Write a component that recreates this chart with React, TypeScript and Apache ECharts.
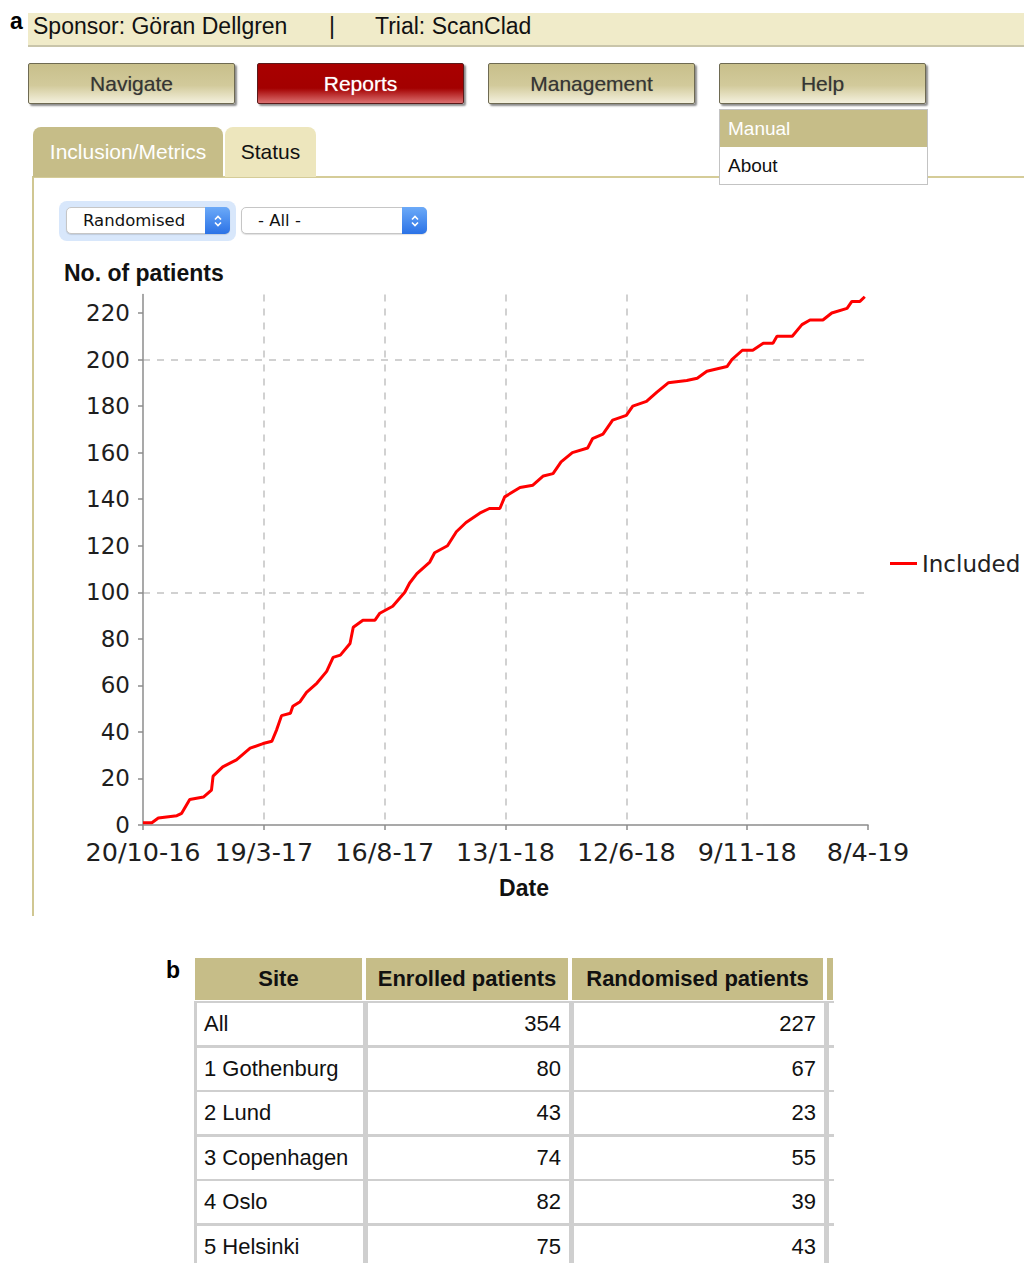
import React, { useEffect, useRef } from 'react';
import * as echarts from 'echarts';

// ---------- chart data ----------
const xTickLabels = ['20/10-16', '19/3-17', '16/8-17', '13/1-18', '12/6-18', '9/11-18', '8/4-19'];
const tickStepDays = 150;
const xMaxDays = 900;
const yMax = 228;
const seriesName = 'Included';
const days = [
  0, 11, 19, 42, 48, 58, 75, 85, 87, 99, 116, 133, 149, 160, 166, 172, 183, 186, 195, 203,
  216, 228, 236, 245, 257, 261, 273, 288, 294, 310, 325, 331, 340, 356, 362, 378, 389, 401, 418, 430,
  443, 449, 468, 484, 497, 509, 519, 533, 552, 558, 571, 583, 600, 608, 625, 638, 652, 675, 688, 700,
  725, 731, 744, 757, 770, 782, 787, 806, 818, 828, 844, 855, 874, 880, 890, 896,
];
const included = [
  1, 1, 3, 4, 5, 11, 12, 15, 21, 25, 28, 33, 35, 36, 41, 47, 48, 51, 53, 57,
  61, 66, 72, 73, 78, 85, 88, 88, 91, 94, 100, 104, 108, 113, 117, 120, 126, 130, 134, 136,
  136, 141, 145, 146, 150, 151, 156, 160, 162, 166, 168, 174, 176, 180, 182, 186, 190, 191, 192, 195,
  197, 200, 204, 204, 207, 207, 210, 210, 215, 217, 217, 220, 222, 225, 225, 227,
];

// ---------- page data ----------
const sponsorText = 'Sponsor: Göran Dellgren';
const trialText = 'Trial: ScanClad';
const navButtons = ['Navigate', 'Reports', 'Management', 'Help'];
const helpMenu = ['Manual', 'About'];
const tabs = ['Inclusion/Metrics', 'Status'];
const selects = ['Randomised', '- All -'];
const tableHeaders = ['Site', 'Enrolled patients', 'Randomised patients'];
const sites = ['All', '1 Gothenburg', '2 Lund', '3 Copenhagen', '4 Oslo', '5 Helsinki'];
const enrolled = [354, 80, 43, 74, 82, 75];
const randomised = [227, 67, 23, 55, 39, 43];

const UI_FONT = '"Liberation Sans", Arial, Helvetica, sans-serif';
const CHART_FONT = '"DejaVu Sans", sans-serif';
const GOLD = '#c6bd88';

function Chart() {
  const ref = useRef<HTMLDivElement>(null);
  useEffect(() => {
    if (!ref.current) return;
    const chart = echarts.init(ref.current, null, { renderer: 'svg' });
    const axisColor = '#8c8c8c';
    chart.setOption({
      animation: false,
      title: {
        text: 'No. of patients',
        left: 59,
        top: 6,
        textStyle: { fontFamily: UI_FONT, fontWeight: 'bold', fontSize: 23, color: '#111' },
      },
      legend: {
        data: [seriesName],
        left: 885,
        top: 297,
        icon: 'rect',
        itemWidth: 27,
        itemHeight: 3,
        textStyle: { fontFamily: CHART_FONT, fontSize: 23, color: '#222' },
      },
      grid: { left: 143, right: 156, top: 44.4, bottom: 95 },
      xAxis: {
        type: 'value',
        min: 0,
        max: xMaxDays,
        interval: tickStepDays,
        axisLine: { show: true, onZero: false, lineStyle: { color: axisColor, width: 1.5 } },
        axisTick: { show: true, length: 5, lineStyle: { color: axisColor, width: 1.5 } },
        axisLabel: {
          formatter: (v: number) => xTickLabels[Math.round(v / tickStepDays)] ?? '',
          fontFamily: CHART_FONT,
          fontSize: 25.5,
          lineHeight: 24,
          color: '#1e1e1e',
          margin: 15,
        },
        splitLine: {
          show: true,
          showMinLine: false,
          showMaxLine: false,
          lineStyle: { color: '#c2c2c2', width: 1.5, type: [7, 7] },
        },
        name: 'Date',
        nameLocation: 'middle',
        nameGap: 51,
        nameTextStyle: { fontFamily: UI_FONT, fontWeight: 'bold', fontSize: 23, color: '#111', padding: [0, 0, 0, 37] },
      },
      yAxis: [
        {
          type: 'value',
          min: 0,
          max: yMax,
          interval: 20,
          axisLine: { show: true, lineStyle: { color: axisColor, width: 1.5 } },
          axisTick: { show: true, length: 5, lineStyle: { color: axisColor, width: 1.5 } },
          axisLabel: {
            showMaxLabel: false,
            fontFamily: CHART_FONT,
            fontSize: 23,
            lineHeight: 20,
            color: '#1e1e1e',
            margin: 13,
          },
          splitLine: { show: false },
        },
        {
          type: 'value',
          min: 0,
          max: yMax,
          interval: 100,
          position: 'left',
          axisLine: { show: false },
          axisTick: { show: false },
          axisLabel: { show: false },
          splitLine: {
            show: true,
            showMinLine: false,
            showMaxLine: false,
            lineStyle: { color: '#c2c2c2', width: 1.5, type: [7, 7] },
          },
        },
      ],
      series: [
        {
          name: seriesName,
          type: 'line',
          yAxisIndex: 0,
          data: days.map((d, i) => [d, included[i]]),
          symbol: 'none',
          showSymbol: false,
          color: '#ff0000',
          lineStyle: { color: '#ff0000', width: 3 },
        },
      ],
    });
    return () => chart.dispose();
  }, []);
  return <div ref={ref} style={{ position: 'absolute', left: 0, top: 250, width: 1024, height: 670 }} />;
}

const Chevron = () => (
  <svg width="10" height="16" viewBox="0 0 10 16">
    <polyline points="2,6.5 5,3.5 8,6.5" fill="none" stroke="#fff" strokeWidth="1.6" />
    <polyline points="2,9.5 5,12.5 8,9.5" fill="none" stroke="#fff" strokeWidth="1.6" />
  </svg>
);

function SelectBox({ left, width, label }: { left: number; width: number; label: string }) {
  return (
    <div
      style={{
        position: 'absolute',
        left,
        top: 207,
        width,
        height: 27,
        boxSizing: 'border-box',
        border: '1px solid #c6c6c6',
        borderRadius: 5,
        background: '#fff',
        boxShadow: '0 1px 1px rgba(0,0,0,0.12)',
      }}
    >
      <span style={{ position: 'absolute', left: 16, top: 3, fontFamily: CHART_FONT, fontSize: 16.5, color: '#111', whiteSpace: 'nowrap' }}>
        {label}
      </span>
      <div
        style={{
          position: 'absolute',
          right: -1,
          top: -1,
          width: 25,
          height: 27,
          borderRadius: '0 5px 5px 0',
          background: 'linear-gradient(#6caaf8, #2b72e6)',
          display: 'flex',
          alignItems: 'center',
          justifyContent: 'center',
        }}
      >
        <Chevron />
      </div>
    </div>
  );
}

export default function App() {
  const buttonLefts = [28, 257, 488, 719];
  const colLefts = [195, 366, 572, 827];
  const colWidths = [170, 205, 254, 6];
  const headerTop = 958;
  const headerH = 42;
  const bodyTop = 1001;
  const rowH = 44.6;

  return (
    <div
      style={{
        position: 'absolute',
        left: 0,
        top: 0,
        width: 1024,
        height: 1263,
        overflow: 'hidden',
        background: '#fff',
        fontFamily: UI_FONT,
      }}
    >
      {/* label a */}
      <div style={{ position: 'absolute', left: 10, top: 8, fontSize: 23, fontWeight: 'bold', color: '#000' }}>a</div>
      {/* top bar */}
      <div
        style={{
          position: 'absolute',
          left: 28,
          top: 13,
          width: 996,
          height: 32,
          background: '#f0ebc9',
          borderBottom: '2px solid #c9c5aa',
        }}
      >
        <span style={{ position: 'absolute', left: 5, top: 0, fontSize: 23, color: '#111', whiteSpace: 'nowrap' }}>{sponsorText}</span>
        <span style={{ position: 'absolute', left: 301, top: 0, fontSize: 23, color: '#111' }}>|</span>
        <span style={{ position: 'absolute', left: 347, top: 0, fontSize: 23, color: '#111', whiteSpace: 'nowrap' }}>{trialText}</span>
      </div>

      {/* nav buttons */}
      {navButtons.map((b, i) => {
        const red = b === 'Reports';
        return (
          <div
            key={b}
            style={{
              position: 'absolute',
              left: buttonLefts[i],
              top: 63,
              width: 207,
              height: 41,
              boxSizing: 'border-box',
              border: red ? '1px solid #5a1a1a' : '1px solid #6e6a52',
              borderRadius: 2,
              boxShadow: '2px 2px 2px rgba(0,0,0,0.45)',
              background: red
                ? 'linear-gradient(#a90000, #a30000 62%, #dc7070)'
                : 'linear-gradient(#c8bf8b, #d2ca9b 55%, #f4f1de)',
              color: red ? '#fff' : '#353535',
              fontSize: 21,
              display: 'flex',
              alignItems: 'center',
              justifyContent: 'center',
              textShadow: red ? '0 0 1px rgba(255,255,255,0.6)' : '0 0 1px rgba(0,0,0,0.35)',
            }}
          >
            {b}
          </div>
        );
      })}

      {/* panel border */}
      <div style={{ position: 'absolute', left: 33, top: 176, width: 991, height: 2, background: '#d5cc98' }} />
      <div style={{ position: 'absolute', left: 32, top: 176, width: 2, height: 740, background: '#d0c792' }} />

      {/* tabs */}
      <div
        style={{
          position: 'absolute',
          left: 33,
          top: 127,
          width: 190,
          height: 50,
          background: GOLD,
          borderRadius: '8px 8px 0 0',
          color: '#fff',
          fontSize: 21,
          display: 'flex',
          alignItems: 'center',
          justifyContent: 'center',
        }}
      >
        {tabs[0]}
      </div>
      <div
        style={{
          position: 'absolute',
          left: 225,
          top: 127,
          width: 91,
          height: 50,
          background: '#ede6bd',
          borderRadius: '8px 8px 0 0',
          color: '#111',
          fontSize: 21,
          display: 'flex',
          alignItems: 'center',
          justifyContent: 'center',
        }}
      >
        {tabs[1]}
      </div>

      {/* help dropdown menu */}
      <div
        style={{
          position: 'absolute',
          left: 719,
          top: 109,
          width: 209,
          height: 76,
          boxSizing: 'border-box',
          border: '1px solid #c3c3c3',
          background: '#fff',
        }}
      >
        <div style={{ height: 37, background: GOLD, color: '#fff', fontSize: 19, paddingLeft: 8, lineHeight: '37px' }}>{helpMenu[0]}</div>
        <div style={{ height: 37, color: '#111', fontSize: 19, paddingLeft: 8, lineHeight: '37px' }}>{helpMenu[1]}</div>
      </div>

      {/* selects */}
      <div style={{ position: 'absolute', left: 59, top: 201, width: 177, height: 40, borderRadius: 8, background: '#d8e7fb' }} />
      <SelectBox left={66} width={164} label={selects[0]} />
      <SelectBox left={241} width={186} label={selects[1]} />

      {/* chart */}
      <Chart />

      {/* label b */}
      <div style={{ position: 'absolute', left: 166, top: 957, fontSize: 23, fontWeight: 'bold', color: '#000' }}>b</div>

      {/* table header */}
      {tableHeaders.map((h, j) => (
        <div
          key={h}
          style={{
            position: 'absolute',
            left: colLefts[j],
            top: headerTop,
            width: colWidths[j] - 3,
            height: headerH,
            background: GOLD,
            color: '#111',
            fontWeight: 'bold',
            fontSize: 22,
            display: 'flex',
            alignItems: 'center',
            justifyContent: 'center',
            whiteSpace: 'nowrap',
          }}
        >
          {h}
        </div>
      ))}
      <div style={{ position: 'absolute', left: colLefts[3], top: headerTop, width: colWidths[3], height: headerH, background: GOLD }} />

      {/* table body */}
      <div style={{ position: 'absolute', left: 194, top: bodyTop, width: 640, height: 1263 - bodyTop, background: '#cfcfcf' }} />
      {sites.map((s, i) => {
        const top = bodyTop + i * rowH + 2;
        const cells = [s, String(enrolled[i]), String(randomised[i]), ''];
        return cells.map((c, j) => (
          <div
            key={`${i}-${j}`}
            style={{
              position: 'absolute',
              left: colLefts[j] + 2,
              top,
              width: colWidths[j] - 4 + (j === 3 ? 10 : 0),
              height: rowH - 2.6,
              background: '#fff',
              color: '#111',
              fontSize: 22,
              display: 'flex',
              alignItems: 'center',
              justifyContent: j === 0 ? 'flex-start' : 'flex-end',
              paddingLeft: j === 0 ? 7 : 0,
              paddingRight: j === 1 || j === 2 ? 8 : 0,
              boxSizing: 'border-box',
              whiteSpace: 'nowrap',
            }}
          >
            {c}
          </div>
        ));
      })}
    </div>
  );
}
